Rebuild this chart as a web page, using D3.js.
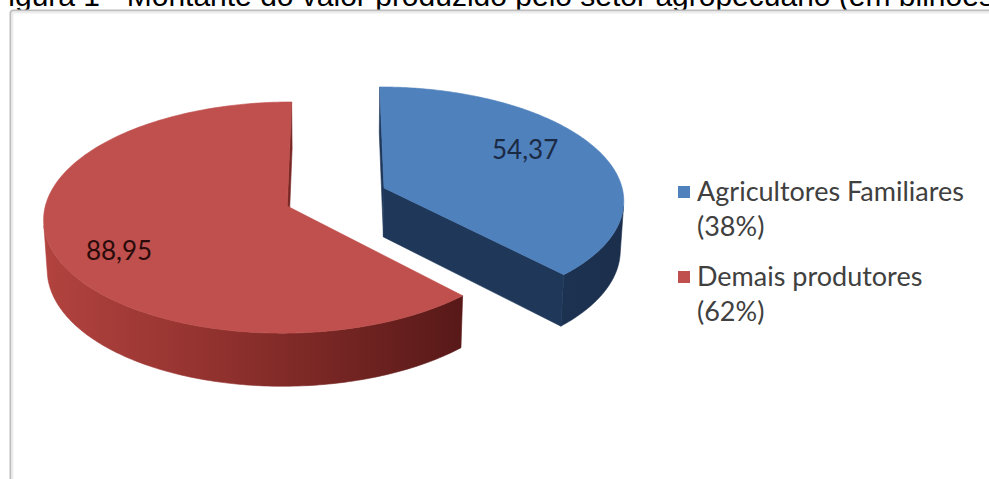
<!DOCTYPE html>
<html>
<head>
<meta charset="utf-8">
<script src="https://cdn.jsdelivr.net/npm/d3@7/dist/d3.min.js"></script>
<style>
  html, body { margin: 0; padding: 0; background: #fff; }
  svg { display: block; }
</style>
</head>
<body>
<svg id="chart" width="989" height="479"></svg>
<script>
// Valor produzido pelo setor agropecuário (em bilhões de reais)
const categories = ["Agricultores Familiares", "Demais produtores"];
const values = [54.37, 88.95];
const topColors = ["#4F81BD", "#C0504D"];
const titleText = "Figura 1 - Montante do valor produzido pelo setor agropecuário (em bilhões de reais)";

const W = 989, H = 479;
const svg = d3.select("#chart");

const br = d3.formatLocale({ decimal: ",", thousands: ".", grouping: [3], currency: ["R$", ""] });
const fmtValue = br.format(".2f");
const fmtShare = br.format(".0%");
const total = d3.sum(values);

// Title line (runs past the top and right edges of the page)
svg.append("text")
  .attr("x", -10).attr("y", 6)
  .attr("font-family", "Liberation Sans, Arial, sans-serif")
  .attr("font-size", 30)
  .attr("fill", "#000")
  .text(titleText);

// Chart frame
svg.append("rect")
  .attr("x", 10.5).attr("y", 10.5)
  .attr("width", 1100).attr("height", 600)
  .attr("rx", 3)
  .attr("fill", "#fff")
  .attr("stroke", "#BDBDBD").attr("stroke-width", 2);
svg.append("rect")
  .attr("x", 12.5).attr("y", 12.5)
  .attr("width", 1100).attr("height", 600)
  .attr("fill", "none")
  .attr("stroke", "#EDEDED").attr("stroke-width", 2);

// ---- 3D pie: perspective projection of a tilted disc ----
const cam = { D: 9, alpha: 28 * Math.PI / 180, h: 0.235, explode: 0.217 };
const ca = Math.cos(cam.alpha), sa = Math.sin(cam.alpha);
const sx = d3.scaleLinear().domain([-1, 1]).range([336 - 240, 336 + 240]);
const sy = d3.scaleLinear().domain([-1, 1]).range([197 + 240, 197 - 240]);

function proj(X, Y, Z) {
  const d = cam.D + Y * ca - Z * sa;
  const k = cam.D / d;
  return [sx(X * k), sy((Y * sa + Z * ca) * k)];
}

const pie = d3.pie().sort(null).value(d => d)(values);

const defs = svg.append("defs");
const redSide = defs.append("linearGradient")
  .attr("id", "redSide").attr("gradientUnits", "userSpaceOnUse")
  .attr("x1", 45).attr("y1", 0).attr("x2", 460).attr("y2", 0);
redSide.append("stop").attr("offset", 0).attr("stop-color", "#B2433F");
redSide.append("stop").attr("offset", 0.45).attr("stop-color", "#8E302D");
redSide.append("stop").attr("offset", 1).attr("stop-color", "#581918");
const blueSide = defs.append("linearGradient")
  .attr("id", "blueSide").attr("gradientUnits", "userSpaceOnUse")
  .attr("x1", 380).attr("y1", 0).attr("x2", 630).attr("y2", 0);
blueSide.append("stop").attr("offset", 0).attr("stop-color", "#203A5E");
blueSide.append("stop").attr("offset", 1).attr("stop-color", "#1B2F4C");

const sideFill = ["url(#blueSide)", "url(#redSide)"];
const radialFill = ["#1F385A", "#7A2826"];

const line = d3.line();
const pieG = svg.append("g");

pie.forEach((a, i) => {
  const mid = (a.startAngle + a.endAngle) / 2;
  const ax = cam.explode * Math.sin(mid);
  const ay = cam.explode * Math.cos(mid);
  const rim = (t, z) => proj(ax + Math.sin(t), ay + Math.cos(t), z);
  const apex = z => proj(ax, ay, z);
  const g = pieG.append("g");

  // outer curved wall, only where it faces the camera
  const N = 240;
  const runs = [];
  let cur = null;
  for (let j = 0; j <= N; j++) {
    const t = a.startAngle + (a.endAngle - a.startAngle) * j / N;
    const px = ax + Math.sin(t), py = ay + Math.cos(t);
    const vis = Math.sin(t) * (0 - px) + Math.cos(t) * (-cam.D * ca - py) > 0;
    if (vis) { if (!cur) { cur = []; runs.push(cur); } cur.push(t); }
    else cur = null;
  }
  runs.forEach(run => {
    const pts = run.map(t => rim(t, 0)).concat(run.slice().reverse().map(t => rim(t, -cam.h)));
    g.append("path").attr("d", line(pts) + "Z")
      .attr("fill", sideFill[i]).attr("stroke", sideFill[i]).attr("stroke-width", 0.6);
  });

  // radial walls
  const camX = 0, camY = -cam.D * ca;
  [[a.startAngle, -1], [a.endAngle, 1]].forEach(([t, sgn]) => {
    const nx = sgn * Math.cos(t), ny = -sgn * Math.sin(t);
    if (nx * (camX - ax) + ny * (camY - ay) > 0) {
      const pts = [apex(0), rim(t, 0), rim(t, -cam.h), apex(-cam.h)];
      g.append("path").attr("d", line(pts) + "Z")
        .attr("fill", radialFill[i]).attr("stroke", radialFill[i]).attr("stroke-width", 0.6);
    }
  });

  // top face
  const M = 180;
  const topPts = [apex(0)];
  for (let j = 0; j <= M; j++) {
    const t = a.startAngle + (a.endAngle - a.startAngle) * j / M;
    topPts.push(rim(t, 0));
  }
  g.append("path").attr("d", line(topPts) + "Z")
    .attr("fill", topColors[i]).attr("stroke", topColors[i]).attr("stroke-width", 0.6);

  // value label on the top face
  const lt = mid - 8 * Math.PI / 180, lr = 0.74;
  const lp = proj(ax + lr * Math.sin(lt), ay + lr * Math.cos(lt), 0);
  g.append("text")
    .attr("x", lp[0] - 5).attr("y", lp[1])
    .attr("text-anchor", "middle").attr("dominant-baseline", "central")
    .attr("font-family", "Lato, 'Open Sans', sans-serif")
    .attr("font-size", 26)
    .attr("fill", i === 0 ? "#1B2A44" : "#2A0B0B")
    .text(fmtValue(a.data));
});

// Legend
const legend = svg.append("g").attr("font-family", "Lato, 'Open Sans', sans-serif")
  .attr("font-size", 27).attr("fill", "#404040");
const legendRows = [201, 286];
categories.forEach((c, i) => {
  legend.append("rect")
    .attr("x", 678).attr("y", legendRows[i] - 15)
    .attr("width", 12).attr("height", 12)
    .attr("fill", topColors[i]);
  const t = legend.append("text").attr("x", 697).attr("y", legendRows[i]);
  t.append("tspan").attr("x", 697).attr("dy", 0).text(c);
  t.append("tspan").attr("x", 697).attr("dy", 35).text("(" + fmtShare(values[i] / total) + ")");
});
</script>
</body>
</html>
